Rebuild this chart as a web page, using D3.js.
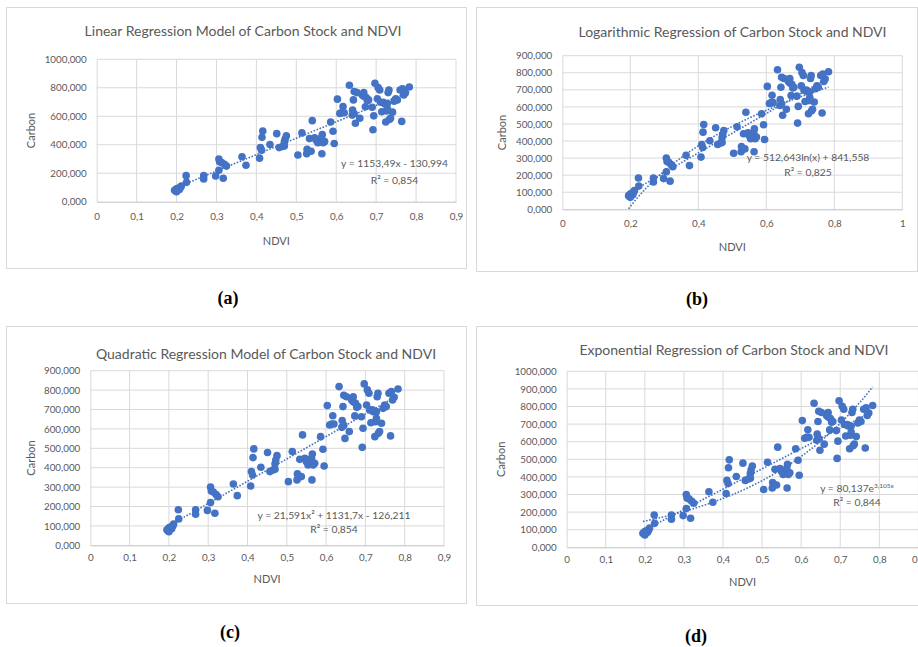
<!DOCTYPE html>
<html>
<head>
<meta charset="utf-8">
<script src="https://cdn.jsdelivr.net/npm/d3@7"></script>
<style>
  body { margin: 0; background: #fff; }
  svg { display: block; }
  .tick text { fill: #595959; font-family: Lato, "Open Sans", sans-serif; font-size: 9.8px; }
</style>
</head>
<body>
<svg width="918" height="647"></svg>
<script>
// data, same points in all four panels
var ndvi = [0.195, 0.198, 0.2, 0.205, 0.21, 0.212, 0.207, 0.2, 0.224, 0.225,
  0.268, 0.268, 0.306, 0.308, 0.306, 0.298, 0.317, 0.32, 0.325, 0.313,
  0.364, 0.374, 0.408, 0.41, 0.413, 0.414, 0.416, 0.434, 0.451, 0.457,
  0.465, 0.47, 0.472, 0.475, 0.47, 0.504, 0.514, 0.527, 0.526, 0.537,
  0.533, 0.54, 0.546, 0.55, 0.554, 0.563, 0.565, 0.564, 0.567, 0.571,
  0.586, 0.592, 0.595, 0.603, 0.609, 0.614, 0.617, 0.62, 0.633, 0.641,
  0.643, 0.645, 0.648, 0.64, 0.645, 0.652, 0.659, 0.665, 0.669, 0.669,
  0.673, 0.675, 0.678, 0.681, 0.69, 0.692, 0.694, 0.697, 0.703, 0.705,
  0.709, 0.711, 0.714, 0.72, 0.724, 0.726, 0.728, 0.73, 0.732, 0.733,
  0.736, 0.741, 0.745, 0.749, 0.753, 0.76, 0.764, 0.766, 0.769, 0.773,
  0.783, 0.728, 0.718];
var carbon = [80, 75, 90, 95, 100, 110, 85, 70, 183, 136,
  183, 160, 300, 280, 220, 180, 165, 262, 250, 275,
  316, 256, 306, 380, 362, 452, 497, 402, 478, 380,
  388, 420, 440, 462, 392, 328, 483, 368, 337, 354,
  443, 569, 448, 431, 414, 448, 471, 337, 414, 423,
  560, 495, 409, 720, 620, 625, 668, 625, 818, 643,
  715, 773, 551, 608, 618, 766, 586, 749, 766, 740,
  667, 732, 711, 715, 663, 505, 603, 832, 723, 801,
  784, 698, 632, 689, 560, 637, 689, 766, 784, 577,
  586, 629, 706, 723, 715, 784, 564, 792, 749, 763,
  806, 655, 698];

// trendline coefficients as printed on the charts
var linCoef = [1153.49, -130.994];
var logCoef = [512.643, 841.558];
var quadCoef = [21.591, 1131.7, -126.211];
var expCoef = [80.137, 3.105];

var titles = ["Linear Regression Model of Carbon Stock and NDVI",
  "Logarithmic Regression of Carbon Stock and NDVI",
  "Quadratic Regression Model of Carbon Stock and NDVI",
  "Exponential Regression of Carbon Stock and NDVI"];
var captions = ["(a)", "(b)", "(c)", "(d)"];
var r2 = ["0,854", "0,825", "0,854", "0,844"];
var xMaxes = [0.9, 1, 0.9, 0.9];
var xSteps = [0.1, 0.2, 0.1, 0.1];
var yMaxes = [1000, 900, 900, 1000];
var ySteps = [200, 100, 100, 100];

var points = ndvi.map(function(d, i) { return {x: d, y: carbon[i]}; });

// model functions
function linear(x) { return linCoef[0] * x + linCoef[1]; }
function loga(x) { return logCoef[0] * Math.log(x) + logCoef[1]; }
function quad(x) { return quadCoef[0] * x * x + quadCoef[1] * x + quadCoef[2]; }
function expo(x) { return expCoef[0] * Math.exp(expCoef[1] * x); }

// layout of each panel on the page
var layout = [
  {box: [6, 7, 460, 261], plot: [96.7, 456, 59.3, 201.7], title: [243, 35.5], cap: [228, 304],
   eq: [394.5, 167], r2y: 184, xlab: 245, ylab: 31, xpad: 17},
  {box: [476, 7, 441, 264], plot: [562.3, 902.3, 55.7, 209.3], title: [732.5, 37], cap: [697, 305],
   eq: [808, 160.5], r2y: 176, xlab: 251, ylab: 502, xpad: 17},
  {box: [6, 326, 460, 277], plot: [90.3, 444, 370.7, 545.3], title: [266, 358.5], cap: [230, 638],
   eq: [334, 519], r2y: 533, xlab: 582.5, ylab: 31, xpad: 15},
  {box: [476, 326, 460, 279], plot: [566.7, 918.4, 371.3, 547.3], title: [734, 354.5], cap: [696, 642],
   eq: [857, 491.5], r2y: 506, xlab: 586, ylab: 501, xpad: 15}
];

var svg = d3.select("svg");
var comma = function(s) { return s.replace(".", ","); };
var font = "Lato, 'Open Sans', sans-serif";

function drawPanel(i) {
  var L = layout[i];
  var g = svg.append("g").attr("class", "panel");

  // chart border
  g.append("rect")
    .attr("x", L.box[0] + 0.5).attr("y", L.box[1] + 0.5)
    .attr("width", L.box[2]).attr("height", L.box[3])
    .attr("fill", "#fff").attr("stroke", "#d9d9d9");

  var x = d3.scaleLinear().domain([0, xMaxes[i]]).range([L.plot[0], L.plot[1]]);
  var y = d3.scaleLinear().domain([0, yMaxes[i]]).range([L.plot[3], L.plot[2]]);
  var xt = d3.range(0, xMaxes[i] + 1e-9, xSteps[i]);
  var yt = d3.range(0, yMaxes[i] + 1e-9, ySteps[i]);

  // gridlines
  g.append("g").selectAll("line").data(xt.slice(1)).enter().append("line")
    .attr("x1", function(d) { return x(d); }).attr("x2", function(d) { return x(d); })
    .attr("y1", L.plot[2]).attr("y2", L.plot[3])
    .attr("stroke", "#d9d9d9");
  g.append("g").selectAll("line").data(yt.slice(1)).enter().append("line")
    .attr("x1", L.plot[0]).attr("x2", L.plot[1])
    .attr("y1", function(d) { return y(d); }).attr("y2", function(d) { return y(d); })
    .attr("stroke", "#d9d9d9");

  // axes
  var xa = g.append("g")
    .attr("transform", "translate(0," + L.plot[3] + ")")
    .call(d3.axisBottom(x).tickValues(xt).tickSize(0).tickPadding(L.xpad - 6)
      .tickFormat(function(d) { return d === 0 ? "0" : comma(String(+d.toFixed(1))); }));
  xa.select(".domain").attr("stroke", "#bfbfbf");
  var ya = g.append("g")
    .attr("transform", "translate(" + L.plot[0] + ",0)")
    .call(d3.axisLeft(y).tickValues(yt).tickSize(0).tickPadding(10)
      .tickFormat(function(d) { return comma(d3.format(".3f")(d)); }));
  ya.select(".domain").attr("stroke", "#d9d9d9");

  // title and axis titles
  g.append("text")
    .attr("x", L.title[0]).attr("y", L.title[1])
    .attr("text-anchor", "middle").attr("fill", "#595959")
    .attr("font-family", font).attr("font-size", 14)
    .text(titles[i]);
  g.append("text")
    .attr("x", (L.plot[0] + L.plot[1]) / 2).attr("y", L.xlab)
    .attr("text-anchor", "middle").attr("fill", "#595959")
    .attr("font-family", font).attr("font-size", 11)
    .text("NDVI");
  g.append("text")
    .attr("transform", "translate(" + (L.ylab + 4) + "," + (L.plot[2] + L.plot[3]) / 2 + ") rotate(-90)")
    .attr("text-anchor", "middle").attr("fill", "#595959")
    .attr("font-family", font).attr("font-size", 11)
    .text("Carbon");

  // scatter
  g.append("g").selectAll("circle").data(points).enter().append("circle")
    .attr("cx", function(d) { return x(d.x); })
    .attr("cy", function(d) { return y(d.y); })
    .attr("r", 3.8)
    .attr("fill", "#4472c4");

  // trendlines, sampled over the data range
  var ext = d3.extent(ndvi);
  var xs = d3.range(ext[0], ext[1] + 1e-9, (ext[1] - ext[0]) / 60);
  var models = [[linear], [linear, loga], [quad], [linear, expo]][i];
  var line = d3.line()
    .defined(function(d) { return d[1] >= 0; })
    .x(function(d) { return x(d[0]); })
    .y(function(d) { return y(d[1]); });
  models.forEach(function(f) {
    g.append("path")
      .datum(xs.map(function(v) { return [v, f(v)]; }))
      .attr("d", line)
      .attr("fill", "none")
      .attr("stroke", "#4472c4")
      .attr("stroke-width", 1.6)
      .attr("stroke-dasharray", "1.6,1.6");
  });

  // equation labels
  var eq = g.append("text")
    .attr("x", L.eq[0]).attr("y", L.eq[1])
    .attr("text-anchor", "middle").attr("fill", "#595959")
    .attr("font-family", font).attr("font-size", 10.3);
  if (i === 0) eq.text("y = 1153,49x - 130,994");
  if (i === 1) eq.text("y = 512,643ln(x) + 841,558");
  if (i === 2) eq.text("y = 21,591x² + 1131,7x - 126,211");
  if (i === 3) {
    eq.append("tspan").text("y = 80,137e");
    eq.append("tspan").attr("dy", -4).attr("font-size", 6.5).text("3,105x");
  }
  g.append("text")
    .attr("x", L.eq[0]).attr("y", L.r2y)
    .attr("text-anchor", "middle").attr("fill", "#595959")
    .attr("font-family", font).attr("font-size", 10.3)
    .text("R² = " + r2[i]);

  // caption under the chart
  svg.append("text")
    .attr("x", L.cap[0]).attr("y", L.cap[1])
    .attr("text-anchor", "middle")
    .attr("font-family", "'Liberation Serif', 'Times New Roman', serif")
    .attr("font-weight", "bold").attr("font-size", 18)
    .text(captions[i]);
}

[0, 1, 2, 3].forEach(drawPanel);
</script>
</body>
</html>
